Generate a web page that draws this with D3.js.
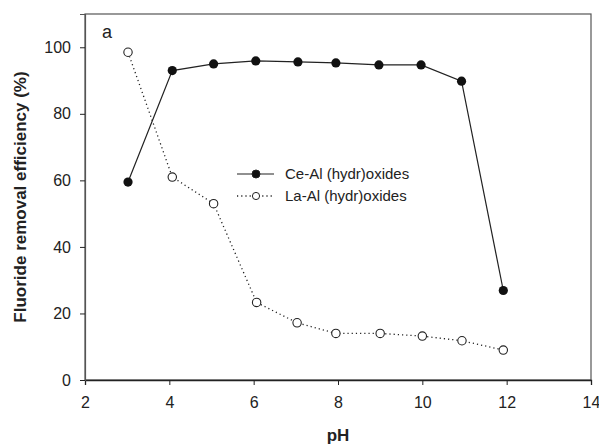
<!DOCTYPE html>
<html>
<head>
<meta charset="utf-8">
<script src="https://cdn.jsdelivr.net/npm/d3@7"></script>
<style>
  body { margin: 0; background: #fff; }
  svg text { font-family: "Liberation Sans", Arial, sans-serif; fill: #222; }
</style>
</head>
<body>
<svg id="SVG_CONTAINER" width="599" height="445"></svg>
<script>
// data
const ceX = [3.02, 4.07, 5.05, 6.05, 7.05, 7.95, 8.97, 9.97, 10.93, 11.92];
const ceY = [59.5, 93.0, 95.0, 95.9, 95.6, 95.3, 94.7, 94.7, 89.8, 26.9];
const laX = [3.02, 4.07, 5.05, 6.07, 7.03, 7.95, 9.0, 10.0, 10.94, 11.92];
const laY = [98.5, 61.0, 53.0, 23.3, 17.2, 14.0, 14.0, 13.2, 11.8, 9.0];
const xTicks = [2, 4, 6, 8, 10, 12, 14];
const yTicks = [0, 20, 40, 60, 80, 100];
const seriesNames = ["Ce-Al (hydr)oxides", "La-Al (hydr)oxides"];

const MARGIN = { LEFT: 85, RIGHT: 8, TOP: 14, BOTTOM: 65 };
const width = 599, height = 445;

let svg = d3.select("#SVG_CONTAINER");

let xScale = d3.scaleLinear().domain([2, 14]).range([MARGIN.LEFT, width - MARGIN.RIGHT]);
let yScale = d3.scaleLinear().domain([0, 110]).range([height - MARGIN.BOTTOM, MARGIN.TOP]);

// frame
svg.append("rect")
    .attr("x", xScale(2))
    .attr("y", yScale(110))
    .attr("width", xScale(14) - xScale(2))
    .attr("height", yScale(0) - yScale(110))
    .attr("fill", "none")
    .attr("stroke", "#555")
    .attr("stroke-width", 1.2);

//** AXES *****************************************
let xAxis = d3.axisBottom(xScale).tickValues(xTicks).tickSize(5).tickPadding(12).tickFormat(d3.format("d"));
let gx = svg.append("g")
    .attr("transform", "translate(0," + yScale(0) + ")")
    .call(xAxis);

let yAxis = d3.axisLeft(yScale).tickValues(yTicks).tickSize(5).tickPadding(9).tickFormat(d3.format("d"));
let gy = svg.append("g")
    .attr("transform", "translate(" + xScale(2) + ",0)")
    .call(yAxis);

gx.select(".domain").attr("stroke", "#222").attr("stroke-width", 1.3);
gy.select(".domain").attr("stroke", "#555").attr("stroke-width", 1.2);
[gx, gy].forEach(g => {
    g.selectAll(".tick line").attr("stroke", "#222");
    g.selectAll(".tick text")
        .attr("font-size", "16px")
        .attr("fill", "#222")
        .attr("font-family", "Liberation Sans, Arial, sans-serif");
});

// axis labels
svg.append("text")
    .attr("x", 338)
    .attr("y", 441)
    .attr("text-anchor", "middle")
    .attr("font-size", "17px")
    .attr("font-weight", "bold")
    .text("pH");

svg.append("text")
    .attr("transform", "translate(26,197) rotate(-90)")
    .attr("text-anchor", "middle")
    .attr("font-size", "17px")
    .attr("font-weight", "bold")
    .text("Fluoride removal efficiency (%)");

svg.append("text")
    .attr("x", 102)
    .attr("y", 38)
    .attr("font-size", "18px")
    .text("a");

//** LINES *****************************************
let ce = ceX.map((x, i) => [x, ceY[i]]);
let la = laX.map((x, i) => [x, laY[i]]);

let line = d3.line().x(d => xScale(d[0])).y(d => yScale(d[1]));

svg.append("path")
    .datum(ce)
    .attr("d", line)
    .attr("fill", "none")
    .attr("stroke", "#222")
    .attr("stroke-width", 1.2);

svg.append("path")
    .datum(la)
    .attr("d", line)
    .attr("fill", "none")
    .attr("stroke", "#222")
    .attr("stroke-width", 1.3)
    .attr("stroke-dasharray", "1.2,3");

svg.append("g").selectAll("circle")
    .data(ce)
    .enter()
    .append("circle")
    .attr("cx", d => xScale(d[0]))
    .attr("cy", d => yScale(d[1]))
    .attr("r", 4.6)
    .attr("fill", "#111");

svg.append("g").selectAll("circle")
    .data(la)
    .enter()
    .append("circle")
    .attr("cx", d => xScale(d[0]))
    .attr("cy", d => yScale(d[1]))
    .attr("r", 4.2)
    .attr("fill", "#fff")
    .attr("stroke", "#222")
    .attr("stroke-width", 1.1);

//** LEGEND *****************************************
let legend = svg.append("g").attr("class", "legend");
let yLegend = 174;
for (let i = 0; i < seriesNames.length; i++) {
    legend.append("line")
        .attr("x1", 237).attr("x2", 274)
        .attr("y1", yLegend).attr("y2", yLegend)
        .attr("stroke", "#222")
        .attr("stroke-width", i === 0 ? 1.2 : 1.3)
        .attr("stroke-dasharray", i === 0 ? null : "1.2,3");
    legend.append("circle")
        .attr("cx", 256).attr("cy", yLegend)
        .attr("r", i === 0 ? 4 : 3.6)
        .attr("fill", i === 0 ? "#111" : "#fff")
        .attr("stroke", "#222")
        .attr("stroke-width", 1);
    legend.append("text")
        .attr("x", 285)
        .attr("y", yLegend + 5)
        .attr("font-size", "15px")
        .text(seriesNames[i]);
    yLegend += 22;
}
</script>
</body>
</html>
